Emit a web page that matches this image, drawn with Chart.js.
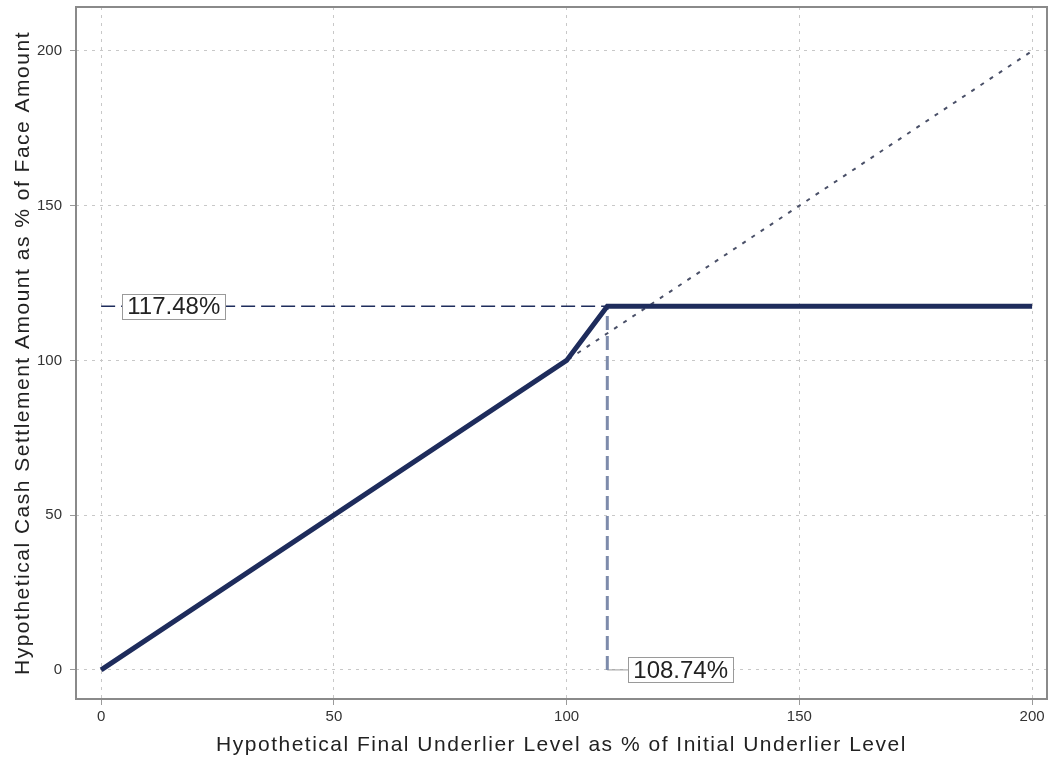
<!DOCTYPE html>
<html>
<head>
<meta charset="utf-8">
<script src="https://cdn.jsdelivr.net/npm/chart.js@4.4.1/dist/chart.umd.min.js"></script>
<style>
  html, body { margin: 0; padding: 0; background: #fff; }
  #wrap { width: 1048px; height: 775px; position: relative; }
</style>
</head>
<body>
<div id="wrap"><canvas id="chart"></canvas></div>
<script>
// payoff at maturity
const payoffX = [0, 100, 108.74, 200];
const payoffY = [0, 100, 117.48, 117.48];

// underlier return reference (1:1)
const refX = [0, 200];
const refY = [0, 200];

const capLevel = 117.48;
const capUnderlier = 108.74;

const tickValues = [0, 50, 100, 150, 200];

const xTitle = "Hypothetical Final Underlier Level as % of Initial Underlier Level";
const yTitle = "Hypothetical Cash Settlement Amount as % of Face Amount";

const toPoints = (xs, ys) => xs.map((x, i) => ({ x: x, y: ys[i] }));

const navy = "#1e2c5c";
const font = "'Liberation Sans', Arial, Helvetica, sans-serif";

// boxed value labels, placed in data units
const valueLabels = [
  { text: capLevel.toFixed(2) + "%", x: 15.6, y: capLevel },
  { text: capUnderlier.toFixed(2) + "%", x: 124.5, y: 0 },
];

const frameAndLabels = {
  id: "frameAndLabels",
  afterDatasetsDraw(chart) {
    const { ctx, chartArea, scales } = chart;
    ctx.save();
    ctx.strokeStyle = "#8a8a8a";
    ctx.lineWidth = 2;
    ctx.strokeRect(chartArea.left, chartArea.top, chartArea.right - chartArea.left, chartArea.bottom - chartArea.top);

    ctx.font = "24px " + font;
    ctx.textAlign = "center";
    ctx.textBaseline = "middle";
    valueLabels.forEach((l) => {
      const px = scales.x.getPixelForValue(l.x);
      const py = scales.y.getPixelForValue(l.y);
      const w = ctx.measureText(l.text).width + 10;
      const h = 25;
      ctx.fillStyle = "#fff";
      ctx.fillRect(px - w / 2, py - h / 2, w, h);
      ctx.strokeStyle = "#9a9a9a";
      ctx.lineWidth = 1;
      ctx.strokeRect(Math.round(px - w / 2) + 0.5, Math.round(py - h / 2) + 0.5, Math.round(w), h);
      ctx.fillStyle = "#222";
      ctx.fillText(l.text, px, py + 1);
    });

    // axis titles (wide tracking like the original)
    ctx.fillStyle = "#222";
    ctx.font = "21px " + font;
    ctx.letterSpacing = "1.5px";
    const midX = (chartArea.left + chartArea.right) / 2;
    const midY = (chartArea.top + chartArea.bottom) / 2;
    ctx.fillText(xTitle, midX, 745);
    ctx.translate(23, midY);
    ctx.rotate(-Math.PI / 2);
    ctx.fillText(yTitle, 0, 0);
    ctx.restore();
  },
};

const gridOpts = {
  color: "#c8c8c8",
  lineWidth: 1,
  drawTicks: true,
  tickLength: 6,
  tickColor: "#9a9a9a",
};

new Chart(document.getElementById("chart"), {
  type: "scatter",
  data: {
    datasets: [
      {
        label: "Payoff",
        data: toPoints(payoffX, payoffY),
        showLine: true,
        borderColor: navy,
        borderWidth: 5,
        pointRadius: 0,
        order: 1,
      },
      {
        label: "Cap level",
        data: toPoints([0, capUnderlier], [capLevel, capLevel]),
        showLine: true,
        borderColor: navy,
        borderWidth: 1.5,
        borderDash: [14, 6],
        pointRadius: 0,
        order: 3,
      },
      {
        label: "Cap underlier",
        data: toPoints([capUnderlier, capUnderlier], [0, capLevel]),
        showLine: true,
        borderColor: "#7d8bab",
        borderWidth: 3,
        borderDash: [14, 6],
        pointRadius: 0,
        order: 2,
      },
      {
        label: "Connector",
        data: toPoints([capUnderlier, 113.4], [0, 0]),
        showLine: true,
        borderColor: "#9a9a9a",
        borderWidth: 1,
        pointRadius: 0,
        order: 4,
      },
      {
        label: "Underlier",
        data: toPoints(refX, refY),
        showLine: true,
        borderColor: "#4a5068",
        borderWidth: 2,
        borderDash: [4, 7],
        pointRadius: 0,
        order: 5,
      },
    ],
  },
  options: {
    responsive: true,
    maintainAspectRatio: false,
    animation: false,
    layout: { padding: { top: 7, right: 1, left: 0, bottom: 0 } },
    plugins: {
      legend: { display: false },
      tooltip: { enabled: false },
    },
    scales: {
      x: {
        type: "linear",
        min: -5.4,
        max: 203.2,
        afterBuildTicks: (s) => { s.ticks = tickValues.map((v) => ({ value: v })); },
        afterFit: (s) => { s.height = 76; s.paddingLeft = 0; s.paddingRight = 0; },
        grid: gridOpts,
        border: { display: false, dash: [3, 5] },
        ticks: { padding: 3, color: "#333", font: { family: font, size: 15 } },
      },
      y: {
        type: "linear",
        min: -9.4,
        max: 214.2,
        afterBuildTicks: (s) => { s.ticks = tickValues.map((v) => ({ value: v })); },
        afterFit: (s) => { s.width = 76; s.paddingTop = 0; s.paddingBottom = 0; },
        grid: gridOpts,
        border: { display: false, dash: [3, 5] },
        ticks: { padding: 8, color: "#333", font: { family: font, size: 15 } },
      },
    },
  },
  plugins: [frameAndLabels],
});
</script>
</body>
</html>
